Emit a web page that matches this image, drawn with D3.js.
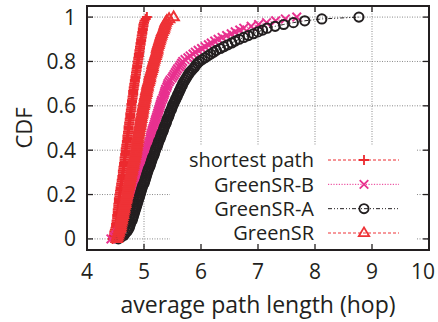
<!DOCTYPE html>
<html>
<head>
<meta charset="utf-8">
<script src="https://cdn.jsdelivr.net/npm/d3@7"></script>
<style>
  body { margin: 0; background: #fff; }
  text { font-family: "Open Sans", "Noto Sans", sans-serif; fill: #231f20; }
</style>
</head>
<body>
<div id="chart"></div>
<script>
// 刻度
const xTicks = [4, 5, 6, 7, 8, 9, 10];
const yTicks = [0, 0.2, 0.4, 0.6, 0.8, 1];

// 图例名称（与绘制顺序一致）
const seriesNames = ["shortest path", "GreenSR-B", "GreenSR-A", "GreenSR"];

// 每条曲线的样本值（已排序），CDF = i / (n - 1)
const shortestPath = [
  4.45, 4.46, 4.47, 4.48, 4.48, 4.49, 4.50, 4.51, 4.51, 4.52, 4.52, 4.53, 4.53,
  4.53, 4.54, 4.54, 4.54, 4.55, 4.55, 4.55, 4.56, 4.56, 4.56, 4.57, 4.57,
  4.58, 4.58, 4.59, 4.59, 4.60, 4.60, 4.61, 4.61, 4.62, 4.62, 4.63, 4.63,
  4.63, 4.64, 4.64, 4.65, 4.65, 4.66, 4.66, 4.66, 4.67, 4.67, 4.68, 4.68,
  4.68, 4.69, 4.69, 4.70, 4.70, 4.71, 4.71, 4.71, 4.72, 4.72, 4.73, 4.73,
  4.73, 4.74, 4.74, 4.75, 4.75, 4.76, 4.76, 4.76, 4.77, 4.77, 4.78, 4.78,
  4.78, 4.79, 4.79, 4.80, 4.80, 4.81, 4.81, 4.81, 4.82, 4.82, 4.83, 4.83,
  4.84, 4.84, 4.85, 4.85, 4.86, 4.86, 4.87, 4.87, 4.88, 4.88, 4.89, 4.89,
  4.90, 4.90, 4.91, 4.91, 4.92, 4.92, 4.93, 4.93, 4.94, 4.94, 4.95, 4.95,
  4.96, 4.96, 4.97, 4.97, 4.98, 4.98, 4.99, 4.99, 5.00, 5.01, 5.03, 5.05
];
const greenSRB = [
  4.42, 4.48, 4.51, 4.54, 4.55, 4.57, 4.58, 4.59, 4.60, 4.61, 4.61, 4.62, 4.63,
  4.64, 4.66, 4.67, 4.68, 4.69, 4.71, 4.72, 4.73, 4.74, 4.76, 4.77, 4.78,
  4.79, 4.80, 4.82, 4.83, 4.84, 4.85, 4.86, 4.87, 4.89, 4.90, 4.91, 4.92,
  4.93, 4.94, 4.95, 4.96, 4.97, 4.99, 5.00, 5.01, 5.02, 5.03, 5.04, 5.05,
  5.06, 5.07, 5.08, 5.09, 5.10, 5.11, 5.11, 5.12, 5.13, 5.14, 5.15, 5.16,
  5.17, 5.18, 5.19, 5.20, 5.21, 5.22, 5.23, 5.24, 5.25, 5.26, 5.27, 5.28,
  5.29, 5.30, 5.31, 5.33, 5.34, 5.35, 5.36, 5.37, 5.38, 5.40, 5.41, 5.42,
  5.44, 5.46, 5.49, 5.51, 5.53, 5.55, 5.57, 5.59, 5.62, 5.64, 5.66, 5.68,
  5.72, 5.77, 5.81, 5.86, 5.90, 5.95, 6.01, 6.07, 6.13, 6.18, 6.24, 6.30,
  6.37, 6.45, 6.53, 6.60, 6.68, 6.75, 6.88, 7.01, 7.15, 7.31, 7.48, 7.68
];
const greenSRA = [
  4.55, 4.60, 4.65, 4.67, 4.70, 4.72, 4.74, 4.75, 4.76, 4.77, 4.79, 4.80, 4.81,
  4.82, 4.83, 4.84, 4.85, 4.86, 4.87, 4.88, 4.89, 4.90, 4.91, 4.92, 4.93,
  4.94, 4.95, 4.96, 4.97, 4.98, 5.00, 5.01, 5.02, 5.03, 5.04, 5.05, 5.06,
  5.07, 5.08, 5.10, 5.11, 5.12, 5.13, 5.14, 5.15, 5.17, 5.18, 5.19, 5.20,
  5.21, 5.23, 5.24, 5.25, 5.26, 5.28, 5.29, 5.30, 5.31, 5.33, 5.34, 5.35,
  5.36, 5.38, 5.39, 5.40, 5.41, 5.43, 5.44, 5.45, 5.46, 5.48, 5.49, 5.50,
  5.52, 5.53, 5.55, 5.56, 5.58, 5.59, 5.61, 5.62, 5.64, 5.65, 5.67, 5.68,
  5.70, 5.72, 5.74, 5.76, 5.78, 5.80, 5.83, 5.86, 5.89, 5.91, 5.94, 5.97,
  6.02, 6.07, 6.12, 6.17, 6.22, 6.27, 6.34, 6.40, 6.47, 6.54, 6.60, 6.67,
  6.75, 6.83, 6.92, 7.00, 7.08, 7.16, 7.30, 7.45, 7.62, 7.82, 8.12, 8.77
];
const greenSR = [
  4.52, 4.53, 4.54, 4.55, 4.56, 4.57, 4.58, 4.59, 4.59, 4.60, 4.61, 4.61, 4.62,
  4.63, 4.63, 4.64, 4.65, 4.65, 4.66, 4.67, 4.67, 4.68, 4.69, 4.69, 4.70,
  4.71, 4.71, 4.72, 4.73, 4.73, 4.74, 4.75, 4.75, 4.76, 4.77, 4.77, 4.78,
  4.79, 4.79, 4.80, 4.81, 4.81, 4.82, 4.83, 4.83, 4.84, 4.85, 4.85, 4.86,
  4.86, 4.87, 4.87, 4.88, 4.88, 4.89, 4.89, 4.90, 4.90, 4.91, 4.91, 4.92,
  4.93, 4.93, 4.94, 4.94, 4.95, 4.95, 4.96, 4.97, 4.97, 4.98, 4.98, 4.99,
  5.00, 5.00, 5.01, 5.02, 5.02, 5.03, 5.04, 5.04, 5.05, 5.06, 5.06, 5.07,
  5.08, 5.09, 5.10, 5.10, 5.11, 5.12, 5.13, 5.14, 5.15, 5.15, 5.16, 5.17,
  5.18, 5.19, 5.20, 5.21, 5.22, 5.23, 5.23, 5.24, 5.25, 5.26, 5.27, 5.28,
  5.29, 5.30, 5.31, 5.32, 5.34, 5.35, 5.36, 5.37, 5.38, 5.40, 5.44, 5.52
];

// 样式：颜色、标记、虚线
const styles = [
  {color: "#ec2a2f", marker: "plus",     dash: "3,2"},
  {color: "#e8318f", marker: "times",    dash: "1.2,1.5"},
  {color: "#231f20", marker: "circle",   dash: "4,2,1,2,1,2"},
  {color: "#ee3236", marker: "triangle", dash: "3,2"}
];

const allSeries = [shortestPath, greenSRB, greenSRA, greenSR];

const width = 438, height = 322;
const frame = {left: 87, right: 429, top: 6, bottom: 250};

const svg = d3.select("#chart").append("svg")
    .attr("width", width)
    .attr("height", height);

const x = d3.scaleLinear().domain([4, 10]).range([frame.left, frame.right]);
const y = d3.scaleLinear().domain([-0.05, 1.05]).range([frame.bottom, frame.top]);

// 网格线（点线）
const grid = svg.append("g").attr("stroke", "#8a8a8a").attr("stroke-width", 1)
    .attr("stroke-dasharray", "1,1.5");
xTicks.slice(1, -1).forEach(t => {
  grid.append("line").attr("x1", x(t)).attr("x2", x(t))
      .attr("y1", frame.top).attr("y2", frame.bottom);
});
yTicks.forEach(t => {
  grid.append("line").attr("x1", frame.left).attr("x2", frame.right)
      .attr("y1", y(t)).attr("y2", y(t));
});

// 标记形状
function markerPath(type) {
  if (type === "plus") return "M-5,0H5M0,-5V5";
  if (type === "times") return "M-4.3,-4.3L4.3,4.3M-4.3,4.3L4.3,-4.3";
  if (type === "triangle") return "M0,-5.6L5.2,3.2L-5.2,3.2Z";
  return "M4.6,0A4.6,4.6 0 1,1 -4.6,0A4.6,4.6 0 1,1 4.6,0Z";
}

// 曲线
const line = d3.line().x(d => x(d[0])).y(d => y(d[1]));
allSeries.forEach((vals, k) => {
  const st = styles[k];
  const pts = vals.map((v, i) => [v, i / (vals.length - 1)]);
  const g = svg.append("g");
  g.append("path").datum(pts)
      .attr("d", line)
      .attr("fill", "none")
      .attr("stroke", st.color)
      .attr("stroke-width", 1)
      .attr("stroke-dasharray", st.dash);
  g.selectAll("path.m").data(pts).enter().append("path")
      .attr("class", "m")
      .attr("transform", d => `translate(${x(d[0])},${y(d[1])})`)
      .attr("d", markerPath(st.marker))
      .attr("fill", "none")
      .attr("stroke", st.color)
      .attr("stroke-width", 2);
});

// 图例（不透明背景）
svg.append("rect")
    .attr("x", 170).attr("y", 146)
    .attr("width", 246).attr("height", 103)
    .attr("fill", "#fff");

const legendY = d3.scalePoint().domain(seriesNames).range([160, 233]);
seriesNames.forEach((name, k) => {
  const st = styles[k];
  const ly = legendY(name);
  svg.append("text")
      .attr("x", 314).attr("y", ly)
      .attr("dy", "0.36em")
      .attr("text-anchor", "end")
      .style("font-size", "20px")
      .text(name);
  svg.append("line")
      .attr("x1", 328).attr("x2", 399)
      .attr("y1", ly).attr("y2", ly)
      .attr("stroke", st.color)
      .attr("stroke-width", 1)
      .attr("stroke-dasharray", st.dash);
  svg.append("path")
      .attr("transform", `translate(364,${ly})`)
      .attr("d", markerPath(st.marker))
      .attr("fill", "none")
      .attr("stroke", st.color)
      .attr("stroke-width", 1.8);
});

// 坐标轴（刻度向内，四边都有）
const axisG = svg.append("g").attr("stroke", "#231f20").attr("stroke-width", 1.3);
xTicks.slice(1, -1).forEach(t => {
  axisG.append("line").attr("x1", x(t)).attr("x2", x(t))
      .attr("y1", frame.bottom).attr("y2", frame.bottom - 6);
  axisG.append("line").attr("x1", x(t)).attr("x2", x(t))
      .attr("y1", frame.top).attr("y2", frame.top + 6);
});
yTicks.forEach(t => {
  axisG.append("line").attr("x1", frame.left).attr("x2", frame.left + 6)
      .attr("y1", y(t)).attr("y2", y(t));
  axisG.append("line").attr("x1", frame.right).attr("x2", frame.right - 6)
      .attr("y1", y(t)).attr("y2", y(t));
});

svg.append("rect")
    .attr("x", frame.left).attr("y", frame.top)
    .attr("width", frame.right - frame.left)
    .attr("height", frame.bottom - frame.top)
    .attr("fill", "none")
    .attr("stroke", "#231f20")
    .attr("stroke-width", 2);

// 刻度标签（最右边的 "10" 贴着画布边缘）
const fmt = d3.format("~g");
xTicks.forEach((t, i) => {
  const last = i === xTicks.length - 1;
  svg.append("text")
      .attr("x", last ? 435 : x(t)).attr("y", 279)
      .attr("text-anchor", last ? "end" : "middle")
      .style("font-size", "21px")
      .text(fmt(t));
});
yTicks.forEach(t => {
  svg.append("text")
      .attr("x", 76).attr("y", y(t))
      .attr("dy", "0.36em")
      .attr("text-anchor", "end")
      .style("font-size", "21px")
      .text(fmt(t));
});

// 轴标题
svg.append("text")
    .attr("x", 258).attr("y", 313)
    .attr("text-anchor", "middle")
    .style("font-size", "23px")
    .text("average path length (hop)");

svg.append("text")
    .attr("transform", "translate(32,128) rotate(-90)")
    .attr("text-anchor", "middle")
    .style("font-size", "22px")
    .text("CDF");
</script>
</body>
</html>
